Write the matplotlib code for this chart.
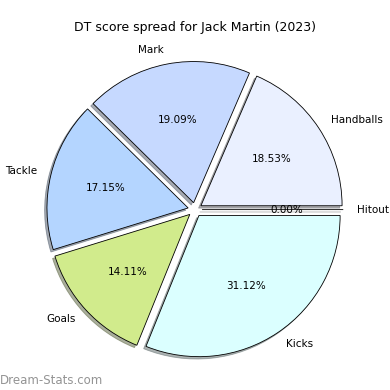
import matplotlib
matplotlib.use("Agg")
import matplotlib.pyplot as plt

labels = ["Handballs", "Mark", "Tackle", "Goals", "Kicks", "Hitout"]
values = [18.53, 19.09, 17.15, 14.11, 31.12, 0.0]
colors = ["#eaf0ff", "#c6d9ff", "#b4d5ff", "#d1eb8c", "#dbffff", "#ffffff"]
explode = [0.05, 0.05, 0.05, 0.05, 0.05, 0.05]

fig = plt.figure(figsize=(3.9, 3.9), dpi=100)
ax = fig.add_axes([0.0, 0.01, 1.0, 0.905])
ax.pie(values, labels=labels, colors=colors, explode=explode, autopct="%1.2f%%",
       shadow={"ox": -0.012, "oy": -0.012, "shade": 0.6}, startangle=0,
       wedgeprops={"edgecolor": "black", "linewidth": 0.6},
       textprops={"fontsize": 7.5})
ax.set_aspect("equal")
fig.text(0.5, 0.93, "DT score spread for Jack Martin (2023)", fontsize=9, ha="center", va="center")
fig.text(0.0, 0.015, "Dream-Stats.com", fontsize=8.5, color="#888888", alpha=0.9)
fig.savefig("out.png", dpi=100)
